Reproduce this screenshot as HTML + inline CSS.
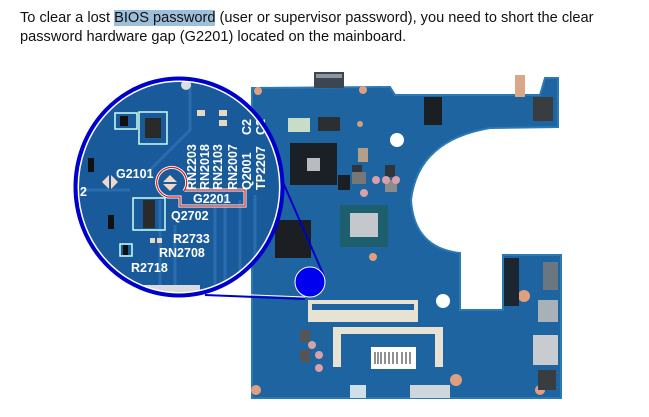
<!DOCTYPE html>
<html><head><meta charset="utf-8"><style>
html,body{margin:0;padding:0;background:#fff;width:649px;height:417px;overflow:hidden}
.t{position:absolute;left:20px;font-family:"Liberation Sans",Arial,sans-serif;font-size:14.6px;color:#111;white-space:nowrap}
.h{background:#9dbfda}
svg{position:absolute;left:0;top:0}
</style></head><body>
<svg width="649" height="417" viewBox="0 0 649 417" font-family="Liberation Sans, Arial, sans-serif">
<defs>
<clipPath id="cc"><ellipse cx="179" cy="187" rx="102" ry="107"/></clipPath>
</defs>
<path d="M252,88 L390,87 L395,95 L540,95 L545,78 L558,78 L558,127 L490,128 Q418,140 411,200 Q414,248 460,253 L460,310 L503,310 L503,255 L561,255 L561,398 L252,398 Z" fill="#1d64a0"/>
<path d="M252,88 L390,87 L395,95 L540,95 L545,78 L558,78 L558,127 L490,128 Q418,140 411,200 Q414,248 460,253 L460,310 L503,310 L503,255 L561,255 L561,398 L252,398 Z" fill="none" stroke="#2a7ab5" stroke-width="2"/>
<rect x="314" y="72" width="30" height="16" fill="#3c4650"/>
<rect x="316" y="74" width="26" height="4" fill="#8c96a0"/>
<rect x="290" y="143" width="47" height="42" fill="#1b2026"/>
<rect x="307" y="158" width="13" height="13" fill="#b8bcc0"/>
<rect x="340" y="205" width="48" height="42" fill="#1d5f6e"/>
<rect x="350" y="213" width="28" height="24" fill="#c4c8cc"/>
<rect x="275" y="220" width="36" height="38" fill="#1b1e22"/>
<rect x="358" y="148" width="10" height="14" fill="#b4a089"/>
<rect x="338" y="175" width="12" height="15" fill="#1b1e22"/>
<rect x="424" y="97" width="18" height="28" fill="#1b1e22"/>
<rect x="288" y="118" width="22" height="14" fill="#c8dcc8"/>
<rect x="318" y="117" width="22" height="14" fill="#2b2f33"/>
<rect x="352" y="165" width="10" height="12" fill="#30353a"/>
<rect x="385" y="165" width="10" height="12" fill="#30353a"/>
<rect x="385" y="180" width="12" height="12" fill="#8a8c8c"/>
<rect x="352" y="172" width="14" height="12" fill="#777"/>
<circle cx="397" cy="140" r="7" fill="#fff"/>
<circle cx="443" cy="301" r="7" fill="#fff"/>
<circle cx="376" cy="180" r="4" fill="#d9a0a8"/>
<circle cx="386" cy="180" r="4" fill="#d9a0a8"/>
<circle cx="396" cy="180" r="4" fill="#d9a0a8"/>
<circle cx="364" cy="193" r="4" fill="#d9a0a8"/>
<circle cx="360" cy="124" r="3" fill="#d4a080"/>
<circle cx="258" cy="91" r="4" fill="#e0a080"/>
<circle cx="363" cy="90" r="4" fill="#e0a080"/>
<circle cx="373" cy="257" r="4" fill="#e0a080"/>
<circle cx="456" cy="380" r="6" fill="#e0a080"/>
<circle cx="524" cy="296" r="6" fill="#e0a080"/>
<circle cx="540" cy="390" r="5" fill="#e0a080"/>
<circle cx="256" cy="390" r="5" fill="#e0a080"/>
<rect x="515" y="75" width="10" height="22" fill="#d8a888"/>
<rect x="533" y="97" width="20" height="24" fill="#3a3d40"/>
<rect x="504" y="258" width="15" height="48" fill="#1c2630"/>
<rect x="543" y="262" width="15" height="28" fill="#6a7680"/>
<rect x="538" y="300" width="20" height="22" fill="#a8b0b8"/>
<rect x="533" y="335" width="25" height="30" fill="#c8ccd0"/>
<rect x="538" y="370" width="18" height="20" fill="#3a3d40"/>
<rect x="308" y="300" width="110" height="22" fill="#e8e2d2"/>
<rect x="312" y="304" width="102" height="6" fill="#1d64a0"/>
<path d="M333,327 H443 V367 H435 V334 H341 V367 H333 Z" fill="#e8e2d2"/>
<rect x="371" y="347" width="45" height="22" fill="#fff"/>
<g stroke="#222" stroke-width="1">
<line x1="375" y1="352" x2="375" y2="364"/><line x1="378" y1="352" x2="378" y2="364"/><line x1="381" y1="352" x2="381" y2="364"/><line x1="385" y1="352" x2="385" y2="364"/><line x1="389" y1="352" x2="389" y2="364"/><line x1="393" y1="352" x2="393" y2="364"/><line x1="397" y1="352" x2="397" y2="364"/><line x1="402" y1="352" x2="402" y2="364"/><line x1="406" y1="352" x2="406" y2="364"/><line x1="410" y1="352" x2="410" y2="364"/>
</g>
<circle cx="312" cy="345" r="4" fill="#d9a0a8"/><circle cx="319" cy="355" r="4" fill="#d9a0a8"/><circle cx="319" cy="368" r="4" fill="#d9a0a8"/>
<rect x="300" y="330" width="10" height="12" fill="#555"/><rect x="300" y="350" width="10" height="12" fill="#555"/>
<rect x="410" y="385" width="40" height="13" fill="#cfd6dc"/>
<rect x="350" y="385" width="16" height="13" fill="#cfe0e8"/>
<line x1="205" y1="295" x2="305" y2="299" stroke="#0000cc" stroke-width="2"/>
<line x1="205" y1="293" x2="305" y2="297" stroke="#fff" stroke-width="1"/>
<line x1="282" y1="180" x2="324" y2="276" stroke="#0000cc" stroke-width="2"/>
<circle cx="310" cy="282" r="15" fill="#0000ee" stroke="#fff" stroke-width="1"/>
<ellipse cx="179" cy="187" rx="102" ry="107" fill="#1a5a9c"/>
<g clip-path="url(#cc)">
<rect x="70" y="75" width="220" height="230" fill="#195a9a"/>
<g stroke="#2a6cb0" stroke-width="3" fill="none">
<path d="M160,200 L160,300"/><path d="M175,225 L175,300"/><path d="M215,195 L215,300"/><path d="M225,195 L225,300"/><path d="M240,200 L240,280"/><path d="M255,195 L255,260"/>
<path d="M80,190 H130"/><path d="M140,180 L190,130 L190,80"/>
</g>
<rect x="115" y="113" width="22" height="16" fill="none" stroke="#cfe" stroke-width="1.5"/>
<rect x="120" y="116" width="8" height="10" fill="#111"/>
<rect x="139" y="112" width="28" height="32" fill="none" stroke="#cfe" stroke-width="1.5"/>
<rect x="145" y="118" width="16" height="20" fill="#2a2a2a"/>
<rect x="197" y="110" width="8" height="6" fill="#e8d8c0"/><rect x="219" y="110" width="8" height="6" fill="#e8d8c0"/><rect x="219" y="120" width="8" height="6" fill="#e8d8c0"/>
<rect x="88" y="158" width="6" height="14" fill="#111"/>
<rect x="133" y="198" width="32" height="32" fill="none" stroke="#cfe" stroke-width="1.5"/>
<rect x="143" y="200" width="12" height="28" fill="#2a2a2a"/>
<rect x="108" y="215" width="6" height="14" fill="#111"/>
<rect x="120" y="244" width="12" height="12" fill="none" stroke="#cfe" stroke-width="1.5"/>
<rect x="123" y="245" width="5" height="10" fill="#111"/>
<rect x="150" y="238" width="5" height="5" fill="#e8d8c0"/><rect x="157" y="238" width="5" height="5" fill="#e8d8c0"/>
<path d="M110,174 l8,8 l-8,8 l-8,-8 z" fill="#f0d8c8"/>
<line x1="110" y1="174" x2="110" y2="190" stroke="#1a5a9c" stroke-width="2"/>
<path d="M170,175 l8,8 l-8,8 l-8,-8 z" fill="#f0d8c8"/>
<line x1="162" y1="183" x2="178" y2="183" stroke="#1a5a9c" stroke-width="2"/>
<circle cx="186" cy="85" r="5" fill="#ddd"/>
<rect x="140" y="285" width="60" height="20" fill="#d8dce0"/>
</g>
<path d="M184,191 A15,15 0 1 0 168,197 L180,197 L180,206 L245,206 L245,190 L184,190" fill="none" stroke="#fff" stroke-width="3"/>
<path d="M184,191 A15,15 0 1 0 168,197 L180,197 L180,206 L245,206 L245,190 L184,190" fill="none" stroke="#d02020" stroke-width="1.2"/>
<g fill="#fff" font-weight="bold" font-size="12.5">
<text x="116" y="178">G2101</text>
<text x="193" y="203">G2201</text>
<text x="171" y="220">Q2702</text>
<text x="173" y="243">R2733</text>
<text x="159" y="257">RN2708</text>
<text x="131" y="272">R2718</text>
<text x="80" y="196">2</text>
<g transform="rotate(-90)">
<text x="-190" y="196">RN2203</text>
<text x="-190" y="209">RN2018</text>
<text x="-190" y="222">RN2103</text>
<text x="-190" y="237">RN2007</text>
<text x="-190" y="251">Q2001</text>
<text x="-190" y="265">TP2207</text>
<text x="-135" y="251">C2</text>
<text x="-135" y="265">C2</text>
</g>
</g>
<ellipse cx="179" cy="187" rx="101" ry="106" fill="none" stroke="#fff" stroke-width="2"/>
<ellipse cx="179" cy="187" rx="103.5" ry="108.5" fill="none" stroke="#0000cc" stroke-width="4"/>
</svg>
<div class="t" style="top:10px">To clear a lost <span class="h">BIOS password</span> (user or supervisor password), you need to short the clear</div>
<div class="t" style="top:29px">password hardware gap (G2201) located on the mainboard.</div>
</body></html>
